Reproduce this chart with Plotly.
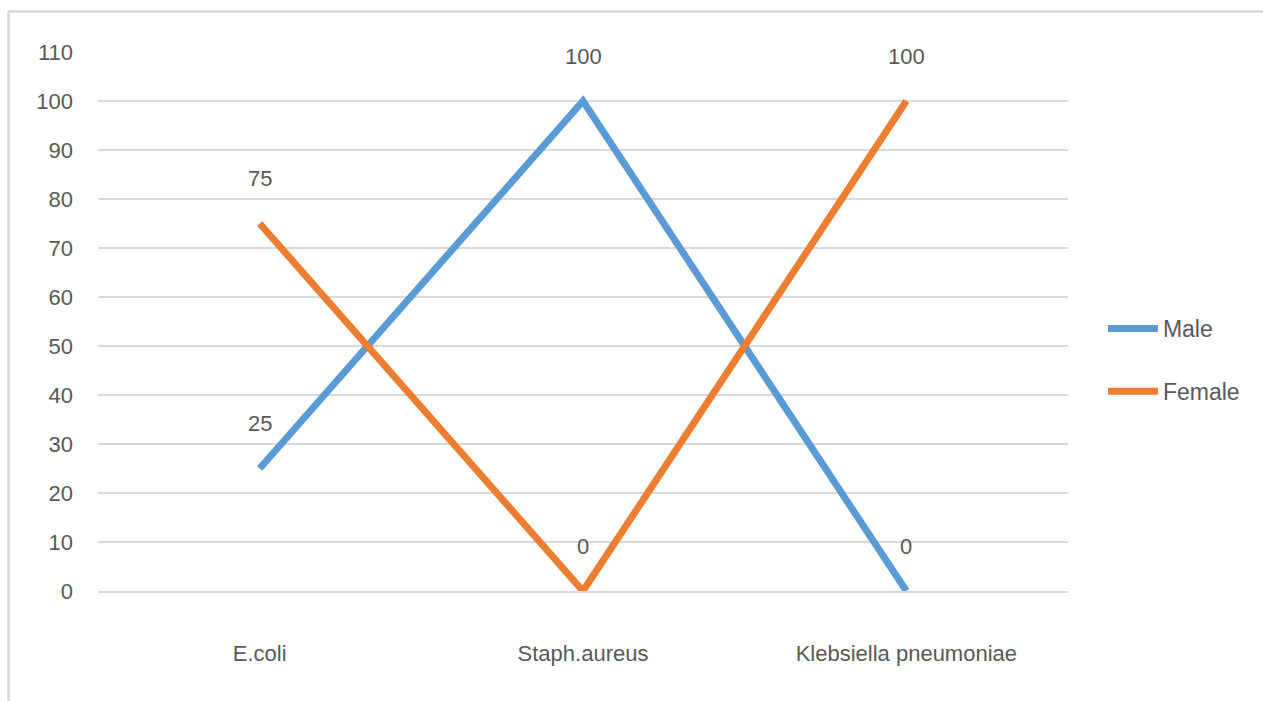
import plotly.graph_objects as go

categories = ["E.coli", "Staph.aureus", "Klebsiella pneumoniae"]
male = [25, 100, 0]
female = [75, 0, 100]
y_ticks = list(range(0, 111, 10))

FONT = "Liberation Sans Narrow, Arial Narrow, Liberation Sans, Arial, sans-serif"
FS = 22
TEXT = "#595959"
GRID = "#d9d9d9"
BLUE = "#5b9bd5"
ORANGE = "#ed7d31"

fig = go.Figure()
for name, vals, color in [("Male", male, BLUE), ("Female", female, ORANGE)]:
    fig.add_trace(go.Scatter(
        x=categories, y=vals, name=name, mode="lines",
        line=dict(color=color, width=7), legendgroup=name,
    ))
    for c, v in zip(categories, vals):
        fig.add_annotation(x=c, y=v, text=str(v), showarrow=False,
                           yanchor="middle", yshift=45,
                           font=dict(family=FONT, size=FS, color=TEXT))

# light frame along the top and left edges
PW, PH = 970, 539
fig.add_shape(type="line", xref="paper", yref="paper",
              x0=(8 - 98) / PW, x1=(1270 - 98) / PW,
              y0=(591 - 11.5) / PH, y1=(591 - 11.5) / PH,
              line=dict(color=GRID, width=2.5), layer="below")
fig.add_shape(type="line", xref="paper", yref="paper",
              x0=(8.5 - 98) / PW, x1=(8.5 - 98) / PW,
              y0=(591 - 710) / PH, y1=(591 - 10.5) / PH,
              line=dict(color=GRID, width=2.5), layer="below")

fig.update_layout(
    width=1263, height=701,
    margin=dict(l=98, r=195, t=52, b=110),
    paper_bgcolor="white", plot_bgcolor="white",
    font=dict(family=FONT, size=FS, color=TEXT),
    legend=dict(x=1.036, y=(591 - 360) / PH, xanchor="left", yanchor="middle",
                tracegroupgap=30, font=dict(size=FS + 1, color=TEXT),
                itemwidth=50),
    xaxis=dict(type="category", range=[-0.5, 2.5], showgrid=False,
               showline=True, linecolor=GRID, linewidth=2, ticks="",
               ticklabelstandoff=42, zeroline=False),
    yaxis=dict(range=[0, 110], tickvals=y_ticks, showgrid=True,
               gridcolor=GRID, gridwidth=1.5, zeroline=False, ticks="",
               showline=False, ticklabelstandoff=24),
)

fig.write_html("out.html")
